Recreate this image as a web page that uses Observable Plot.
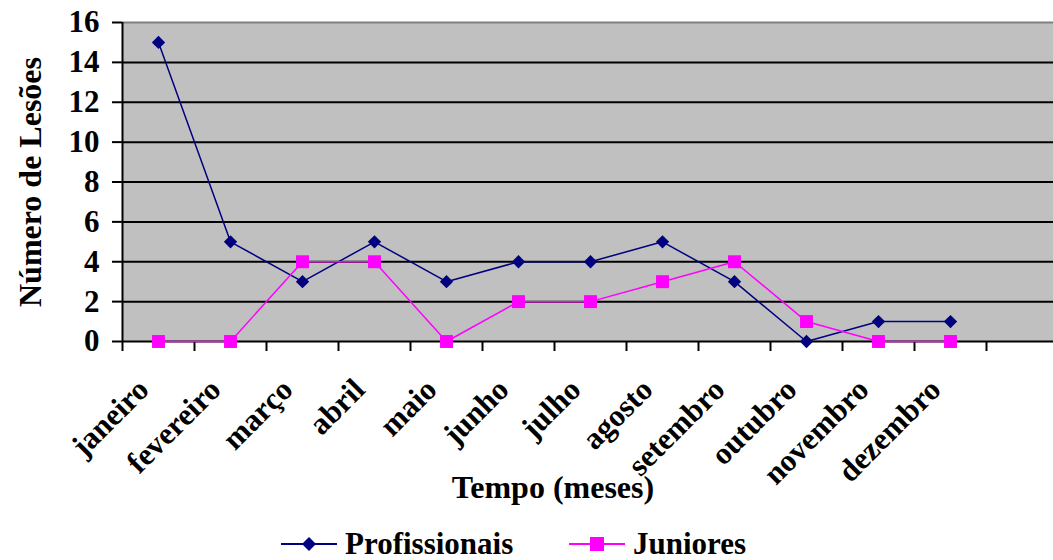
<!DOCTYPE html>
<html>
<head>
<meta charset="utf-8">
<script src="https://cdn.jsdelivr.net/npm/d3@7"></script>
<script src="https://cdn.jsdelivr.net/npm/@observablehq/plot@0.6"></script>
<style>
  html, body { margin: 0; padding: 0; background: #fff; }
  #chart { width: 1053px; }
  .legend { position: relative; height: 33px; width: 1053px; font-family: 'Liberation Serif', 'Times New Roman', serif; font-weight: bold; font-size: 31px; }
  .item { position: absolute; top: 0; height: 33px; display: flex; align-items: center; }
  .item svg { margin-right: 8px; }
</style>
</head>
<body>
<div id="chart"></div>
<div class="legend" id="legend"></div>
<script>
const months = ["janeiro","fevereiro","março","abril","maio","junho","julho","agosto","setembro","outubro","novembro","dezembro"];
const profissionais = [15, 5, 3, 5, 3, 4, 4, 5, 3, 0, 1, 1];
const juniores = [0, 0, 4, 4, 0, 2, 2, 3, 4, 1, 0, 0];
const yTicks = [0, 2, 4, 6, 8, 10, 12, 14, 16];
const seriesNames = ["Profissionais", "Juniores"];
const seriesColors = ["#000080", "#FF00FF"];

const rows = months.map((m, i) => ({i, month: m, prof: profissionais[i], jun: juniores[i]}));
const slots = d3.range(0, months.length + 2);
const FONT = "'Liberation Serif', 'Times New Roman', serif";

const plot = Plot.plot({
  width: 1053,
  height: 527,
  marginLeft: 122,
  marginRight: 0,
  marginTop: 22,
  marginBottom: 186,
  style: {fontFamily: FONT, fontWeight: "bold", fontSize: "30px", background: "#fff", color: "#000"},
  x: {type: "linear", domain: [0, months.length + 1], range: [122, 122 + 72 * (months.length + 1)]},
  y: {domain: [0, 16], range: [341, 22]},
  marks: [
    Plot.frame({fill: "#c0c0c0"}),
    Plot.ruleY(yTicks.filter(d => d > 0 && d < 16), {stroke: "#000", strokeWidth: 2}),
    Plot.ruleY([16], {stroke: "#808080", strokeWidth: 2}),
    Plot.axisY({ticks: yTicks, tickSize: 10, tickPadding: 13, fontSize: 31, fontWeight: "bold", label: null, stroke: "#000", strokeWidth: 2}),
    Plot.axisX({ticks: slots, tickSize: 10, tickFormat: () => "", label: null, stroke: "#000", strokeWidth: 2}),
    Plot.ruleX([0], {stroke: "#000", strokeWidth: 2}),
    Plot.ruleY([0], {stroke: "#000", strokeWidth: 2}),
    Plot.text(rows, {x: d => d.i + 0.5, y: 0, text: "month", rotate: -45, textAnchor: "end", dx: -15, dy: 43, fontSize: 31, fontWeight: "bold", fill: "#000"}),
    Plot.text(["Tempo (meses)"], {frameAnchor: "bottom", text: d => d, dx: -35, dy: 146, lineAnchor: "middle", fontSize: 32, fontWeight: "bold", fill: "#000"}),
    Plot.text(["Número de Lesões"], {frameAnchor: "left", text: d => d, rotate: -90, textAnchor: "middle", dx: -92, dy: 0, lineAnchor: "middle", fontSize: 32, fontWeight: "bold", fill: "#000"}),
    Plot.line(rows, {x: d => d.i + 0.5, y: "prof", stroke: seriesColors[0], strokeWidth: 1.5}),
    Plot.dot(rows, {x: d => d.i + 0.5, y: "prof", symbol: "diamond2", fill: seriesColors[0], r: 6}),
    Plot.line(rows, {x: d => d.i + 0.5, y: "jun", stroke: seriesColors[1], strokeWidth: 1.5}),
    Plot.dot(rows, {x: d => d.i + 0.5, y: "jun", symbol: "square", fill: seriesColors[1], r: 7.3})
  ]
});
document.getElementById("chart").appendChild(plot);

// legend
const legend = document.getElementById("legend");
const lefts = [281, 569];
const symbols = [
  '<polygon points="28,-7 35,0 28,7 21,0" />',
  '<rect x="21" y="-7" width="14" height="14" />'
];
seriesNames.forEach((name, k) => {
  const item = document.createElement("div");
  item.className = "item";
  item.style.left = lefts[k] + "px";
  item.innerHTML = `<svg width="56" height="20" viewBox="0 -10 56 20"><line x1="0" y1="0" x2="56" y2="0" stroke="${seriesColors[k]}" stroke-width="2"/><g fill="${seriesColors[k]}">${symbols[k]}</g></svg><span>${name}</span>`;
  legend.appendChild(item);
});
</script>
</body>
</html>
